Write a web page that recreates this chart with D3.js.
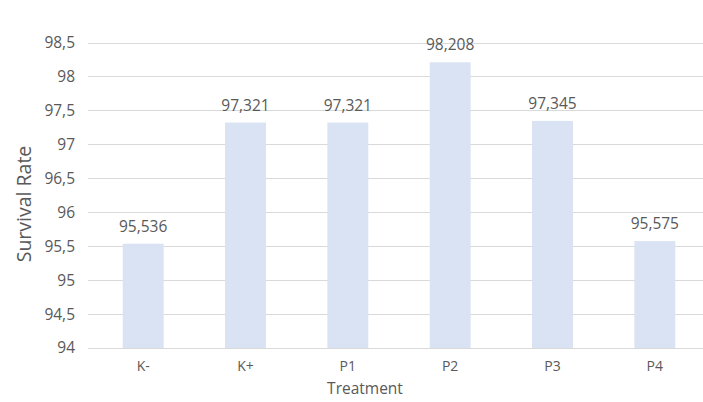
<!DOCTYPE html>
<html><head><meta charset="utf-8">
<script src="https://cdn.jsdelivr.net/npm/d3@7"></script>
<style>body{margin:0;background:#fff}svg{display:block}text{font-family:"Open Sans",sans-serif;fill:#595959}</style>
</head><body><svg id="c" width="703" height="402"></svg>
<script>
const categories = ["K-","K+","P1","P2","P3","P4"];
const values = [95.536, 97.321, 97.321, 98.208, 97.345, 95.575];
const labels = ["95,536","97,321","97,321","98,208","97,345","95,575"];
const yTicks = [94,94.5,95,95.5,96,96.5,97,97.5,98,98.5];
const yTickLabels = ["94","94,5","95","95,5","96","96,5","97","97,5","98","98,5"];

const svg = d3.select("#c");
const y = d3.scaleLinear().domain([94, 98.5]).range([348, 42.5]);
const x = d3.scaleBand().domain(categories).range([92, 706]).paddingInner(0.6).paddingOuter(0.3);

svg.append("g").selectAll("line").data(yTicks).join("line")
  .attr("x1", 88).attr("x2", 703)
  .attr("y1", d => Math.round(y(d)) + 0.5).attr("y2", d => Math.round(y(d)) + 0.5)
  .attr("stroke", "#d9d9d9").attr("stroke-width", 1);

const yAxis = d3.axisLeft(y).tickValues(yTicks).tickSize(0).tickPadding(0)
  .tickFormat((d,i) => yTickLabels[i]);
const ga = svg.append("g").attr("transform", "translate(75,0)").call(yAxis);
ga.select(".domain").remove();
ga.selectAll("text").attr("font-size", 15.5).attr("font-family", "Open Sans").attr("fill", "#595959");

svg.append("g").selectAll("rect").data(values).join("rect")
  .attr("x", (d,i) => x(categories[i]))
  .attr("width", x.bandwidth())
  .attr("y", d => y(d))
  .attr("height", d => y(94) - y(d))
  .attr("fill", "#dae3f3");

svg.append("g").selectAll("text").data(values).join("text")
  .attr("x", (d,i) => x(categories[i]) + x.bandwidth()/2)
  .attr("y", d => y(d) - 12)
  .attr("text-anchor", "middle").attr("font-size", 15.5)
  .text((d,i) => labels[i]);

const xAxis = d3.axisBottom(x).tickSize(0).tickPadding(0);
const gx = svg.append("g").attr("transform", "translate(0,361)").call(xAxis);
gx.select(".domain").remove();
gx.selectAll("text").attr("font-size", 14).attr("font-family", "Open Sans").attr("fill", "#595959");

svg.append("text").attr("x", 365).attr("y", 394).attr("text-anchor", "middle")
  .attr("font-size", 15.5).text("Treatment");
svg.append("text").attr("transform", "translate(31,204) rotate(-90)")
  .attr("text-anchor", "middle").attr("font-size", 19.5).text("Survival Rate");
</script></body></html>
